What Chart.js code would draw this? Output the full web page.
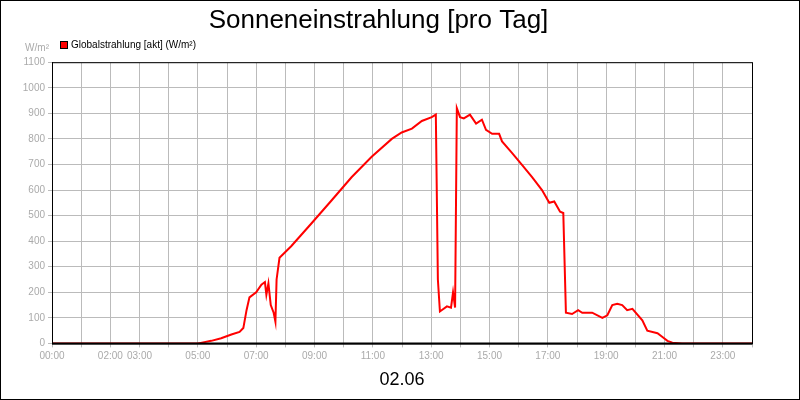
<!DOCTYPE html>
<html><head><meta charset="utf-8">
<script src="https://cdn.jsdelivr.net/npm/chart.js@4"></script>
<style>
body{margin:0;background:#fff}
#wrap{width:798px;height:398px;border:1px solid #000;position:relative}
</style></head>
<body><div id="wrap"><canvas id="c" width="798" height="398"></canvas></div>
<script>
const stunden = [0,5,5.1,5.46,5.8,6.15,6.43,6.56,6.67,6.77,7.0,7.18,7.3,7.35,7.42,7.5,7.6,7.66,7.7,7.8,8.2,8.9,9.59,10.27,10.96,11.65,11.99,12.34,12.68,13.02,13.16,13.23,13.3,13.54,13.68,13.75,13.82,13.88,13.99,14.12,14.33,14.54,14.74,14.88,15.09,15.33,15.43,15.77,16.1,16.46,16.8,17.05,17.22,17.42,17.53,17.62,17.83,18.04,18.18,18.52,18.87,19.04,19.21,19.38,19.55,19.72,19.9,20.24,20.41,20.76,20.93,21.1,21.27,21.6,24];
const strahlung = [0,0,2,10,20,35,45,60,130,180,200,230,240,190,235,150,120,85,250,335,380,470,560,650,730,800,825,840,870,885,895,250,125,145,140,200,140,920,885,880,895,860,875,835,820,820,790,745,700,650,600,550,555,515,510,120,115,130,120,120,100,110,150,155,150,130,135,90,50,40,25,10,3,0,0];
const tickStunden = [0,2,3,5,7,9,11,13,15,17,19,21,23];
const legendeText = 'Globalstrahlung [akt] (W/m²)';

const punkte = stunden.map((h, i) => ({x: h, y: strahlung[i]}));

const rahmen = {
    id: 'rahmen',
    afterDraw(chart) {
        const {ctx, chartArea: a} = chart;
        ctx.save();
        ctx.strokeStyle = '#000';
        ctx.lineWidth = 1;
        ctx.strokeRect(a.left + 0.5, a.top + 0.5, a.right - a.left, a.bottom - a.top);
        ctx.lineWidth = 2;
        ctx.beginPath(); ctx.moveTo(a.left, a.bottom); ctx.lineTo(a.right, a.bottom); ctx.stroke();
        ctx.fillStyle = '#aaa';
        ctx.font = '10px "Liberation Sans"';
        ctx.textAlign = 'right';
        ctx.textBaseline = 'middle';
        ctx.fillText('W/m²', 48, 47);
        // Legende
        ctx.fillStyle = '#ff0000';
        ctx.fillRect(59, 40, 8, 8);
        ctx.strokeStyle = '#000';
        ctx.lineWidth = 1;
        ctx.strokeRect(59.5, 40.5, 7, 7);
        ctx.fillStyle = '#000';
        ctx.textAlign = 'left';
        ctx.fillText(legendeText, 70, 44);
        ctx.restore();
    }
};

new Chart(document.getElementById('c'), {
    type: 'line',
    data: {
        datasets: [{
            label: legendeText,
            data: punkte,
            borderColor: '#ff0000',
            backgroundColor: '#ff0000',
            borderWidth: 2,
            pointRadius: 0,
            tension: 0
        }]
    },
    options: {
        responsive: false,
        animation: false,
        layout: { padding: { left: 4, right: 47, top: 0, bottom: 4 } },
        plugins: {
            title: { display: true, text: 'Sonneneinstrahlung [pro Tag]', color: '#000',
                font: { family: 'Liberation Sans', size: 26, weight: 'normal' }, padding: { top: 4, bottom: 26 } },
            legend: { display: false },
            tooltip: { enabled: false }
        },
        scales: {
            x: {
                type: 'linear', min: 0, max: 24,
                afterBuildTicks: ax => { ax.ticks = Array.from({length: 25}, (_, i) => ({value: i})); },
                ticks: { color: '#aaa', maxRotation: 0, autoSkip: false, font: { family: 'Liberation Sans', size: 10 },
                    callback: v => tickStunden.includes(v) ? String(v).padStart(2, '0') + ':00' : '' },
                grid: { color: '#bbb', drawTicks: true, tickLength: 4 },
                border: { color: '#000' },
                title: { display: true, text: '02.06', color: '#000', font: { family: 'Liberation Sans', size: 18 }, padding: { top: 4 } }
            },
            y: {
                min: 0, max: 1100,
                ticks: { stepSize: 100, color: '#aaa', font: { family: 'Liberation Sans', size: 10 }, callback: v => String(v) },
                grid: { color: '#bbb', tickLength: 4 },
                border: { color: '#000' },
                afterFit: ax => { ax.width = 47; }
            }
        }
    },
    plugins: [rahmen]
});
</script></body></html>
